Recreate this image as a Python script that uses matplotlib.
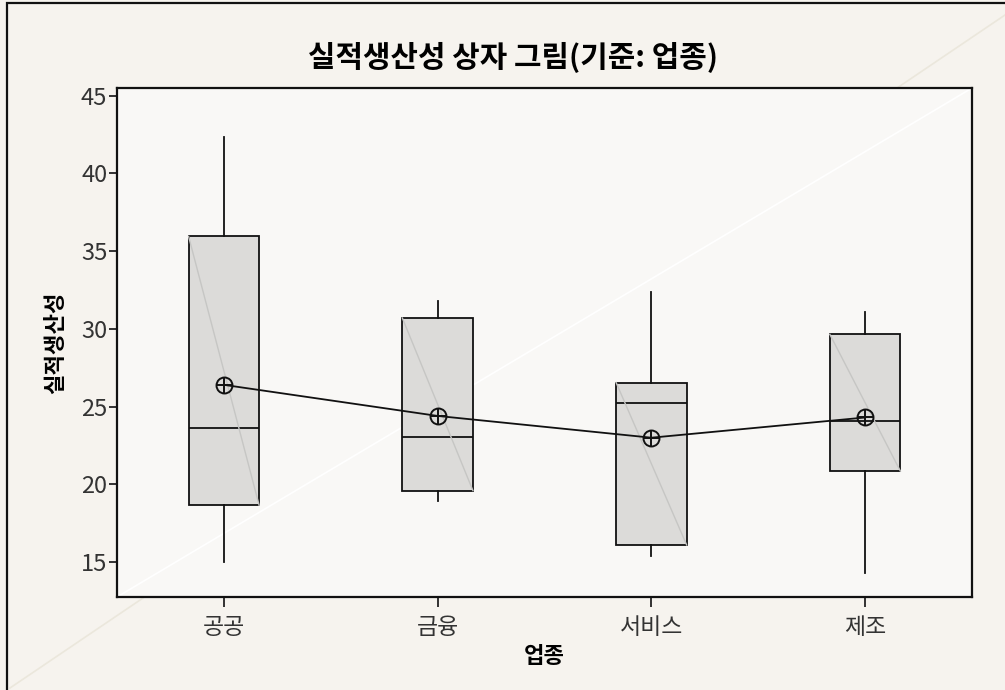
import matplotlib
matplotlib.use("Agg")
import matplotlib.pyplot as plt
from matplotlib.lines import Line2D
from matplotlib.patches import Rectangle

plt.rcParams['font.family'] = ['Noto Sans CJK KR', 'DejaVu Sans']

# 업종별 실적생산성 요약값
groups = ['공공', '금융', '서비스', '제조']
whisker_low = [15.0, 18.9, 15.4, 14.3]
q1 = [18.65, 19.6, 16.1, 20.85]
median = [23.65, 23.05, 25.25, 24.1]
q3 = [35.95, 30.7, 26.55, 29.65]
whisker_high = [42.35, 31.8, 32.4, 31.1]
mean = [26.4, 24.4, 23.0, 24.3]

pos = list(range(1, len(groups) + 1))

fig = plt.figure(figsize=(10.05, 6.9), dpi=100)
fig.patch.set_facecolor('#f6f3ee')

# 바깥 테두리와 배경의 대각선
fig.add_artist(Rectangle((7 / 1005, -0.05), 1.2, 1 - 3 / 690 + 0.05,
                         transform=fig.transFigure, fill=False,
                         edgecolor='#111111', linewidth=1.6, zorder=3))
fig.add_artist(Line2D([10 / 1005, 1.0], [2 / 690, 1 - 15 / 690],
                      transform=fig.transFigure, color='#ebe7dc', linewidth=1.2, zorder=-1))

ax = fig.add_axes([117 / 1005, 1 - 597 / 690, 855 / 1005, 509 / 690])
ax.set_facecolor('#f9f8f6')
ax.plot([0, 1], [0, 1], transform=ax.transAxes, color='white', linewidth=1.2, zorder=0.5)

stats = []
for i, g in enumerate(groups):
    stats.append({'label': g, 'whislo': whisker_low[i], 'q1': q1[i], 'med': median[i],
                  'q3': q3[i], 'whishi': whisker_high[i], 'mean': mean[i], 'fliers': []})

w = 0.33
ax.bxp(stats, positions=pos, widths=w, showcaps=False, showmeans=False,
       patch_artist=True,
       boxprops=dict(facecolor='#dcdbd9', edgecolor='#111111', linewidth=1.3),
       whiskerprops=dict(color='#111111', linewidth=1.3),
       medianprops=dict(color='#111111', linewidth=1.3))

# 상자 안의 옅은 사선
for i, p in enumerate(pos):
    ax.plot([p - w / 2, p + w / 2], [q3[i], q1[i]], color='#c6c6c4', linewidth=1.0, zorder=2.5)

# 평균 연결선과 ⊕ 기호
ax.plot(pos, mean, color='#111111', linewidth=1.3, zorder=4)
ax.plot(pos, mean, linestyle='none', marker='o', markersize=11.5,
        markerfacecolor='none', markeredgecolor='#111111', markeredgewidth=1.4, zorder=5)
ax.plot(pos, mean, linestyle='none', marker='+', markersize=11.5,
        markeredgecolor='#111111', markeredgewidth=1.4, zorder=5)

ax.set_xlim(0.5, 4.5)
ax.set_ylim(12.75, 45.5)
ax.set_yticks([15, 20, 25, 30, 35, 40, 45])
ax.set_xticks(pos)
ax.set_xticklabels(groups)
ax.tick_params(axis='y', labelsize=17, length=6, width=1.2, colors='#111111', pad=1)
ax.tick_params(axis='x', labelsize=16.5, length=7, width=1.2, colors='#111111', pad=7)
for lbl in ax.get_yticklabels():
    lbl.set_color('#333333')
for lbl in ax.get_xticklabels():
    lbl.set_color('#333333')
for s in ax.spines.values():
    s.set_linewidth(1.6)
    s.set_color('#111111')

ax.set_xlabel('업종', fontsize=16, fontweight='bold', labelpad=4)
ax.set_ylabel('실적생산성', fontsize=16, fontweight='bold', labelpad=10)
fig.text(513 / 1005, 1 - 58 / 690, '실적생산성 상자 그림(기준: 업종)', fontsize=21.5,
         fontweight='bold', ha='center', va='center')

fig.savefig('out.png', dpi=100, facecolor=fig.get_facecolor())
